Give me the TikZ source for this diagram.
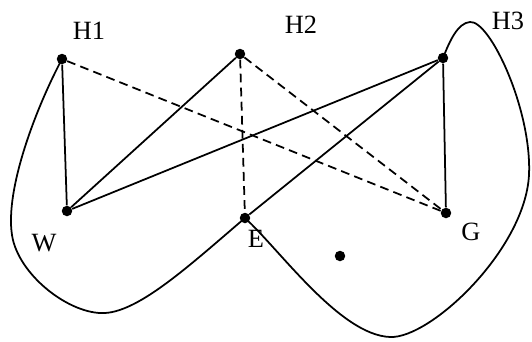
\documentclass[tikz,border=0pt]{standalone}
\usepackage{fontspec}
\setmainfont{Liberation Serif}
\begin{document}
\begin{tikzpicture}[x=0.02cm,y=-0.02cm,every node/.style={font=\fontsize{15}{17}\selectfont},dot/.style={circle,fill,inner sep=0pt,minimum size=0.21cm},edge/.style={line width=1pt},hidden/.style={line width=1pt,dash pattern=on 5pt off 3pt}]
\useasboundingbox (0,0) rectangle (532,342);
\node[dot] (h1) at (62,59) {}; \node[dot] (h2) at (240,54) {}; \node[dot] (h3) at (443,58) {};
\node[dot] (w) at (67,211) {}; \node[dot] (e) at (245,218) {}; \node[dot] (g) at (446,213) {};
\node[dot] (p) at (340,256) {};
\node (lh1) at (89,31) {H1}; \node (lh2) at (301,25) {H2}; \node (lh3) at (508,21) {H3};
\node (lw) at (44,243) {W}; \node (le) at (256,239) {E}; \node (lg) at (471,232) {G};
% outline through H1, E and H3
\draw[edge] (h1.center) .. controls (35,110) and (5,190) .. (12,235) .. controls (18,275) and (70,315) .. (105,313) .. controls (140,311) and (190,265) .. (e.center)
  .. controls (280,250) and (340,335) .. (390,337) .. controls (430,339) and (525,250) .. (529,175) .. controls (532,110) and (490,20) .. (470,22) .. controls (458,23) and (450,40) .. (h3.center);
\draw[edge] (h1)--(w); \draw[edge] (w)--(h2); \draw[edge] (w)--(h3);
\draw[edge] (e)--(h3); \draw[edge] (h3)--(g);
\draw[hidden] (h1)--(g); \draw[hidden] (h2)--(g); \draw[hidden] (h2)--(e);
\end{tikzpicture}
\end{document}
